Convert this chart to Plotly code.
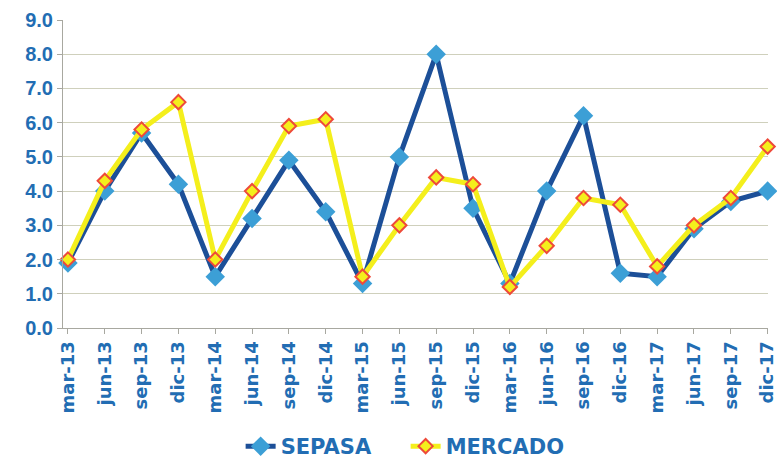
import plotly.graph_objects as go

categories = ["mar-13", "jun-13", "sep-13", "dic-13", "mar-14", "jun-14", "sep-14", "dic-14",
              "mar-15", "jun-15", "sep-15", "dic-15", "mar-16", "jun-16", "sep-16", "dic-16",
              "mar-17", "jun-17", "sep-17", "dic-17"]
sepasa = [1.9, 4.0, 5.7, 4.2, 1.5, 3.2, 4.9, 3.4, 1.3, 5.0, 8.0, 3.5, 1.3, 4.0, 6.2, 1.6, 1.5, 2.9, 3.7, 4.0]
mercado = [2.0, 4.3, 5.8, 6.6, 2.0, 4.0, 5.9, 6.1, 1.5, 3.0, 4.4, 4.2, 1.2, 2.4, 3.8, 3.6, 1.8, 3.0, 3.8, 5.3]
y_ticks = [0, 1, 2, 3, 4, 5, 6, 7, 8, 9]

blue_txt = "#226db3"
arial = "Liberation Sans, Arial, sans-serif"
wide = "DejaVu Sans, Verdana, sans-serif"

x_idx = list(range(len(categories)))

fig = go.Figure()
fig.add_trace(go.Scatter(
    x=x_idx, y=sepasa, name="SEPASA", mode="lines+markers",
    line=dict(color="#1c4f98", width=5),
    marker=dict(symbol="diamond", size=15, color="#3c9fd6", line=dict(width=0)),
    cliponaxis=False,
))
fig.add_trace(go.Scatter(
    x=x_idx, y=mercado, name="MERCADO", mode="lines+markers",
    line=dict(color="#f4ef1c", width=5),
    marker=dict(symbol="diamond", size=11, color="#f4ef1c", line=dict(width=2, color="#ee4a3a")),
    cliponaxis=False,
))

fig.update_layout(
    width=777, height=467,
    margin=dict(l=63, r=0, t=20, b=135),
    paper_bgcolor="white", plot_bgcolor="white",
    font=dict(family=arial, color=blue_txt, size=17),
    showlegend=True,
    legend=dict(orientation="h", x=0.486, y=-0.385, xanchor="center", yanchor="middle",
                font=dict(size=21, color=blue_txt, family=wide, weight="bold"),
                entrywidth=120, entrywidthmode="pixels"),
)
fig.update_xaxes(
    range=[-0.134, 19.01],
    tickmode="array", tickvals=x_idx, ticktext=categories,
    tickangle=-90, ticklabeloverflow="allow",
    tickfont=dict(size=18, color=blue_txt, family=wide, weight="bold"),
    showgrid=False, showline=True, linecolor="#a8a8a0", linewidth=1,
    ticks="outside", ticklen=5, tickcolor="#a8a8a0",
    zeroline=False,
)
fig.update_yaxes(
    range=[0, 9],
    tickmode="array", tickvals=y_ticks, ticktext=[f"{v:.1f}" for v in y_ticks],
    tickfont=dict(size=20, color=blue_txt, family=arial, weight="bold"),
    showgrid=True, gridcolor="#cfd0bc", gridwidth=1,
    showline=True, linecolor="#a8a8a0", linewidth=1,
    ticks="outside", ticklen=5, tickcolor="#a8a8a0",
    zeroline=False,
)

post = (
    "document.documentElement.style.margin='0';"
    "document.documentElement.style.overflow='hidden';"
    "document.body.style.margin='0';"
    "document.body.style.overflow='hidden';"
    "var gd=document.getElementById('{plot_id}');"
    "gd.style.overflow='hidden';"
    "gd.parentElement.style.overflow='hidden';"
    "gd.parentElement.style.width='777px';"
    "document.querySelectorAll('.svg-container').forEach(function(e){e.style.overflow='hidden';});"
    "document.querySelectorAll('svg.main-svg').forEach(function(e){e.style.overflow='hidden';});"
)
fig.write_html("out.html", config={"displayModeBar": False}, post_script=post)
